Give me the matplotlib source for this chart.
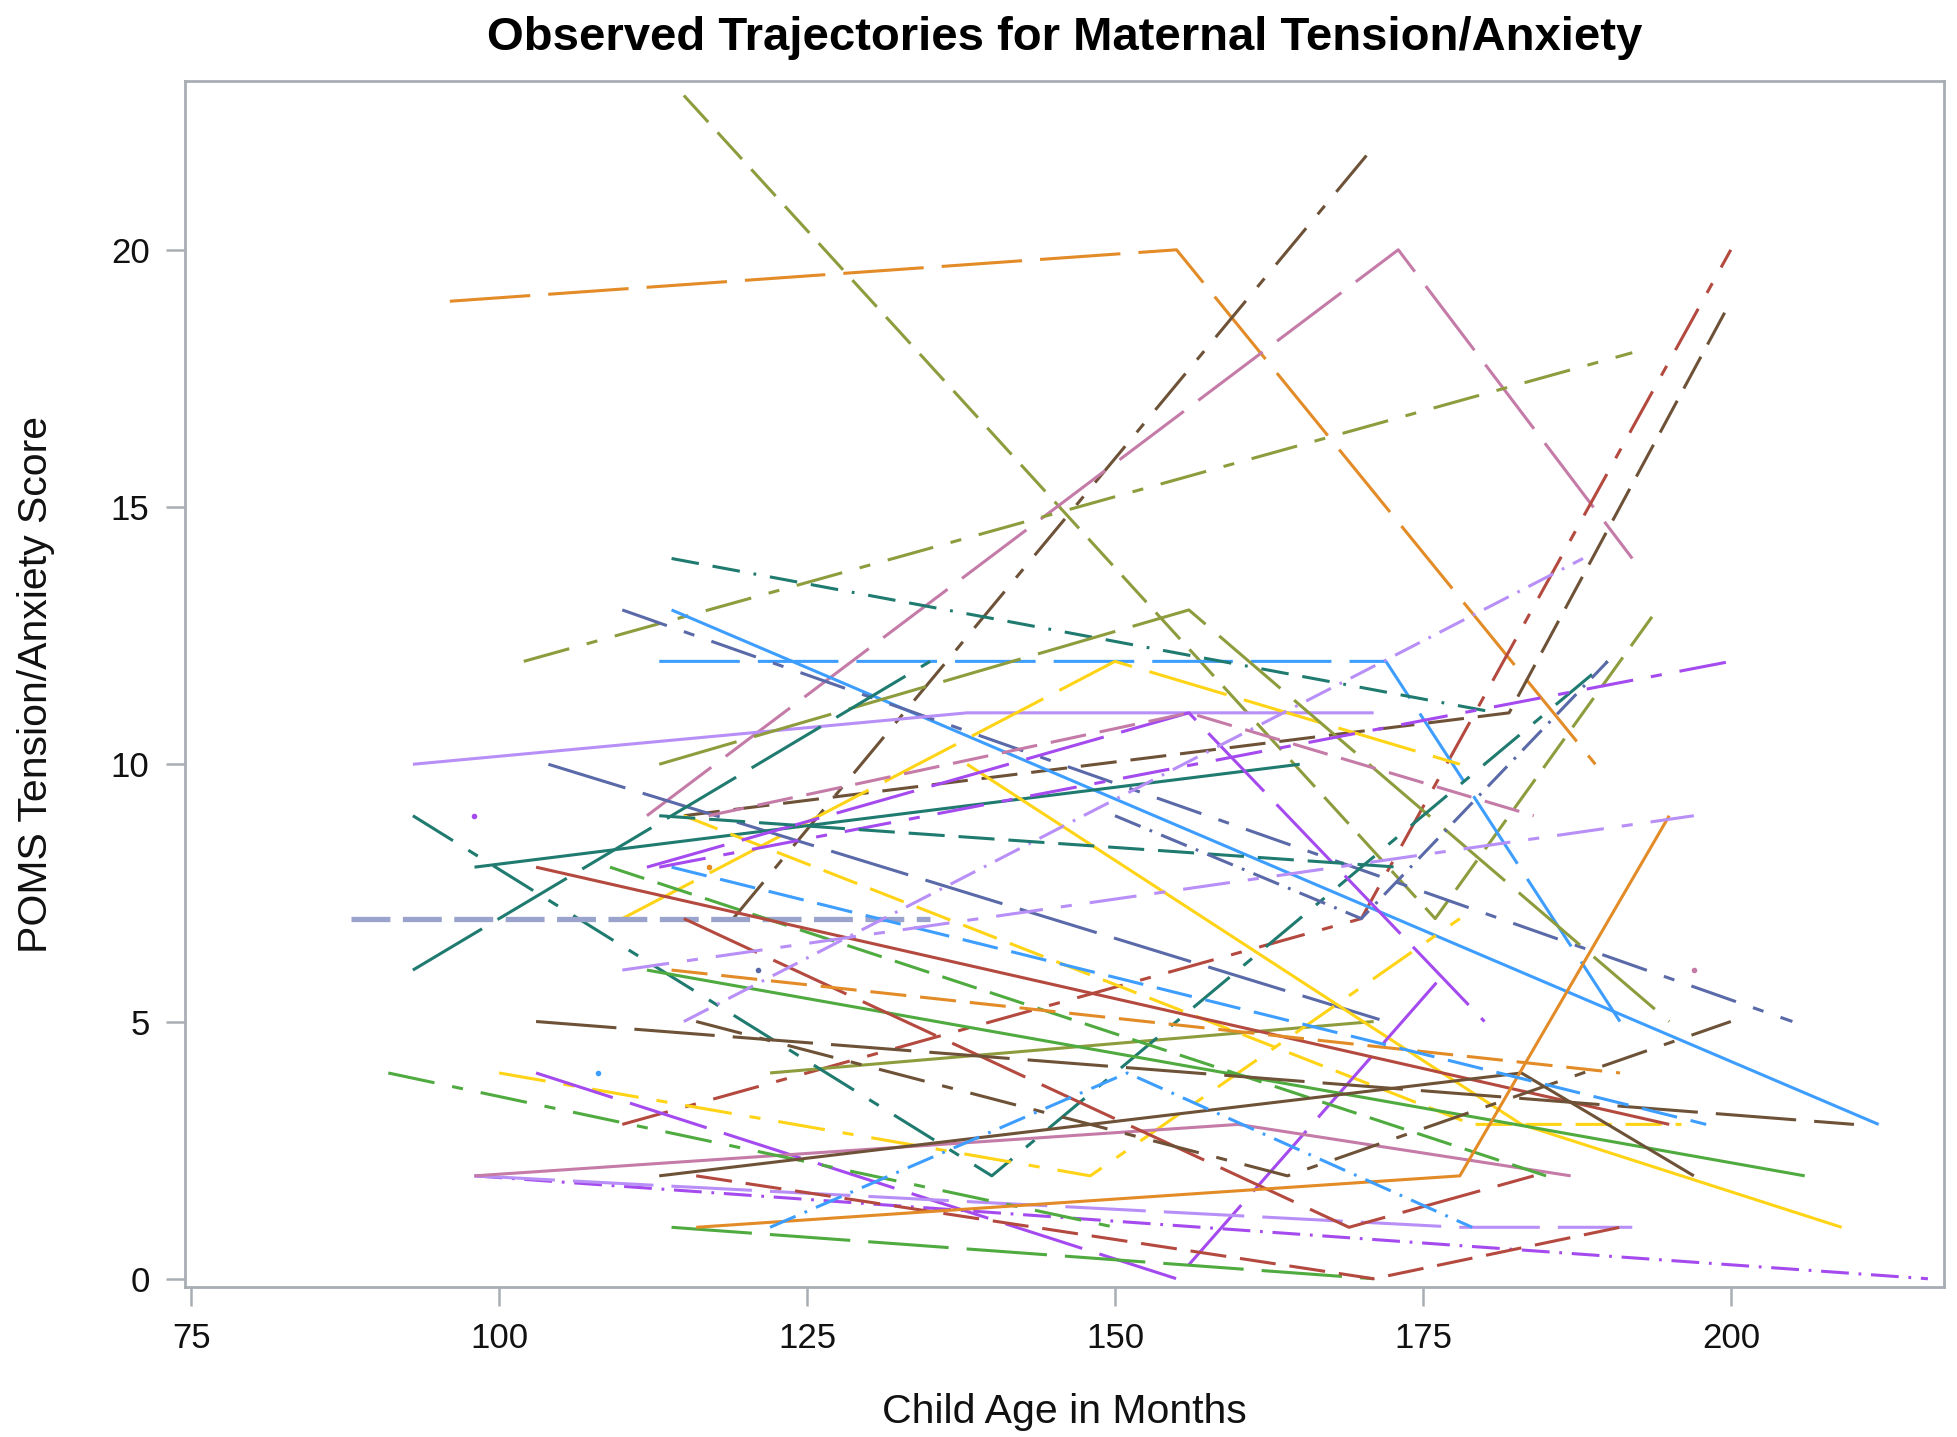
import matplotlib
matplotlib.use("Agg")
import matplotlib.pyplot as plt

# colours of the SAS group styles
orange = "#E28B27"
olive = "#8E9C3D"
brown = "#6E5238"
pink = "#C57BA7"
red = "#B4493F"
ltblue = "#3D9EFF"
teal = "#1F7A6F"
slate = "#5A69A8"
lavender = "#B88FF7"
yellow = "#FFD316"
purple = "#A44AEE"
graybl = "#9AA3CB"
green = "#4FAA3F"

# dash patterns (points, not scaled with line width)
dash_styles = {
    "solid": "-",
    "long": (0, (58, 13)),
    "med": (0, (26, 10)),
    "ldsd": (0, (34, 13, 8, 13)),
    "ddot": (0, (20, 7, 2, 7)),
    "ddd": (0, (20, 10, 20, 10, 2, 10)),
    "short": (0, (28, 9)),
}

# one entry per mother: ages (months) and POMS scores
ages = [
    [96, 155, 189], [115, 176, 194], [119, 171], [112, 173, 192],
    [102, 192], [110, 170, 200], [115, 182, 200], [113, 172, 191],
    [114, 212], [114, 181], [110, 205], [93, 138, 171],
    [110, 150, 178], [113, 156, 195], [122, 171], [104, 172],
    [93, 140, 190], [93, 135], [98, 165], [88, 135],
    [138, 183, 209], [100, 148, 178], [115, 179, 196], [112, 156, 180],
    [113, 200], [103, 155, 177], [98, 216], [98, 178, 192],
    [98, 160, 187], [112, 206], [114, 171], [91, 150],
    [109, 185], [103, 195], [115, 169, 184], [116, 171, 191],
    [116, 164, 200], [113, 183, 197], [103, 210], [116, 178, 195],
    [114, 191], [114, 198], [122, 151, 179], [110, 197],
    [115, 188], [117, 156, 184], [113, 173], [150, 170, 190],
]
scores = [
    [19, 20, 10], [23, 7, 13], [7, 22], [9, 20, 14],
    [12, 18], [3, 7, 20], [9, 11, 19], [12, 12, 5],
    [13, 3], [14, 11], [13, 5], [10, 11, 11],
    [7, 12, 10], [10, 13, 5], [4, 5], [10, 5],
    [9, 2, 12], [6, 12], [8, 10], [7, 7],
    [10, 3, 1], [4, 2, 7], [9, 3, 3], [8, 11, 5],
    [8, 12], [4, 0, 6], [2, 0], [2, 1, 1],
    [2, 3, 2], [6, 2], [1, 0], [4, 1],
    [8, 2], [8, 3], [7, 1, 2], [2, 0, 1],
    [5, 2, 5], [2, 4, 2], [5, 3], [1, 2, 9],
    [6, 4], [8, 3], [1, 4, 1], [6, 9],
    [5, 14], [9, 11, 9], [9, 8], [9, 7, 12],
]
line_colors = [
    orange, olive, brown, pink,
    olive, red, brown, ltblue,
    ltblue, teal, slate, lavender,
    yellow, olive, olive, slate,
    teal, teal, teal, graybl,
    yellow, yellow, yellow, purple,
    purple, purple, purple, lavender,
    pink, green, green, green,
    green, red, red, red,
    brown, brown, brown, orange,
    orange, ltblue, ltblue, lavender,
    lavender, pink, teal, slate,
]
line_styles = [
    "long", "med", "ldsd", "long",
    "ldsd", "ldsd", "med", "long",
    "solid", "ddd", "ldsd", "solid",
    "long", "long", "solid", "long",
    "ldsd", "long", "solid", "short",
    "solid", "ldsd", "med", "long",
    "ldsd", "long", "ddot", "long",
    "solid", "solid", "long", "ldsd",
    "med", "solid", "long", "med",
    "ldsd", "solid", "long", "solid",
    "med", "med", "ddot", "ldsd",
    "ddot", "med", "med", "ddot",
]

# mothers with a single observation
single_ages = [98, 108, 121, 197, 117]
single_scores = [9, 4, 6, 6, 8]
single_colors = [purple, ltblue, slate, pink, orange]

plt.rcParams["font.family"] = ["Liberation Sans", "DejaVu Sans"]
plt.rcParams["lines.scale_dashes"] = False

fig = plt.figure(figsize=(19.58, 14.37), dpi=100)
ax = fig.add_axes([0.0945, 0.1044, 0.8983, 0.8392])

for a, s, c, ls in zip(ages, scores, line_colors, line_styles):
    lw = 3.8 if c == graybl else 2.2
    ax.plot(a, s, color=c, linestyle=dash_styles[ls], linewidth=lw,
            solid_capstyle="butt", dash_capstyle="butt")

for a, s, c in zip(single_ages, single_scores, single_colors):
    ax.plot([a], [s], marker="o", markersize=3, color=c, linestyle="none")

ax.set_xlim(74.5, 217.3)
ax.set_ylim(-0.16, 23.28)
ax.set_xticks([75, 100, 125, 150, 175, 200])
ax.set_yticks([0, 5, 10, 15, 20])

spine_col = "#A8AEB4"
for sp in ax.spines.values():
    sp.set_color(spine_col)
    sp.set_linewidth(2.0)
ax.tick_params(axis="both", direction="out", length=13.5, width=1.8,
               color=spine_col, labelsize=25, pad=12, labelcolor="#111111")

ax.set_title("Observed Trajectories for Maternal Tension/Anxiety",
             fontsize=34, fontweight="bold", pad=22)
ax.set_xlabel("Child Age in Months", fontsize=29.5, color="#111111")
ax.set_ylabel("POMS Tension/Anxiety Score", fontsize=29.5, color="#111111")
ax.xaxis.set_label_coords(0.5, -0.088)
ax.yaxis.set_label_coords(-0.074, 0.5)

fig.savefig("out.png", dpi=100, facecolor="white")
